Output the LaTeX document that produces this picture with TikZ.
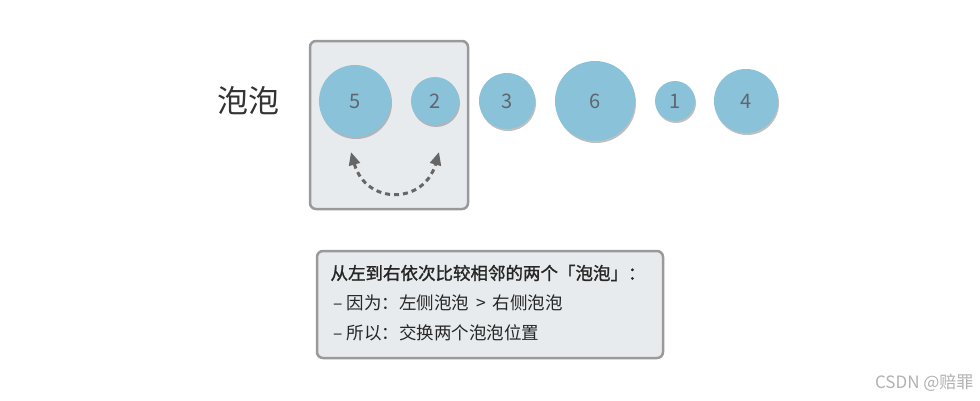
\documentclass[tikz,border=0pt]{standalone}
\usepackage{fontspec}
\setmainfont{Noto Sans CJK SC}
\newfontfamily\cjk{Noto Sans CJK SC}
\newfontfamily\cjkmed[FakeBold=1.3]{Noto Sans CJK SC}
\usetikzlibrary{shadows,arrows.meta}
\definecolor{bub}{HTML}{89C2D9}
\definecolor{numc}{HTML}{5F666E}
\definecolor{panel}{HTML}{E8EBEE}
\definecolor{edge}{HTML}{9A9A9A}
\definecolor{arr}{HTML}{666666}
\tikzset{
  bubble/.style={circle, fill=bub, inner sep=0pt, text=numc, font=\cjk\fontsize{20}{20}\selectfont,
     drop shadow={shadow xshift=1pt, shadow yshift=-2pt, opacity=0.45, fill=black!55}},
  panelbox/.style={draw=edge, line width=2.5pt, fill=panel, rounded corners=6pt},
  txt/.style={anchor=west, font=\cjk\fontsize{17.5}{17.5}\selectfont, text=black!85},
}
\begin{document}
\begin{tikzpicture}[x=1pt,y=-1pt]
\useasboundingbox (0,0) rectangle (980,400);
\fill[white] (0,0) rectangle (980,400);
% highlight box
\draw[panelbox] (310,41) rectangle (468,209);
% label
\node[font=\cjk\fontsize{31}{31}\selectfont, text=black!80] (lbl) at (248,101) {泡泡};
% bubbles
\node[bubble, minimum size=72pt] (b5) at (355,101) {5};
\node[bubble, minimum size=48pt] (b2) at (435,101) {2};
\node[bubble, minimum size=56pt] (b3) at (507,101) {3};
\node[bubble, minimum size=80pt] (b6) at (595,101) {6};
\node[bubble, minimum size=40pt] (b1) at (675,101) {1};
\node[bubble, minimum size=64pt] (b4) at (746,101) {4};
% swap arrow
\coordinate (al) at (351,152);
\coordinate (ar) at (439,152);
\draw[arr, line width=3pt, dash pattern=on 5pt off 4pt, {Triangle[length=13pt,width=11pt]}-{Triangle[length=13pt,width=11pt]}]
  (al) .. controls (366,205) and (424,205) .. (ar);
% explanation box
\draw[panelbox] (317,251) rectangle (663,358);
\node[txt, font=\cjkmed\fontsize{17.5}{17.5}\selectfont] (t1) at (327,273) {从左到右依次比较相邻的两个「泡泡」：};
\node[txt] (t2) at (330,303) {–\ 因为：左侧泡泡 \,>\, 右侧泡泡};
\node[txt] (t3) at (330,333) {–\ 所以：交换两个泡泡位置};
% watermark
\node[anchor=east, font=\cjk\fontsize{17}{17}\selectfont, text=black!30] (wm) at (977,383) {CSDN @赔罪};
\end{tikzpicture}
\end{document}
